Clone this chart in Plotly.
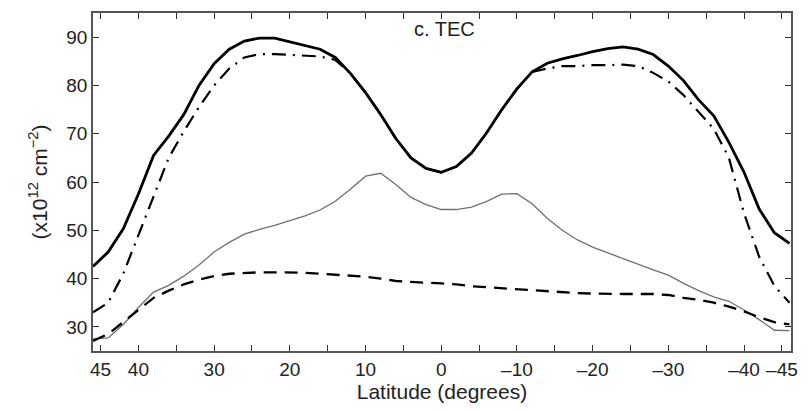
import plotly.graph_objects as go

lat = [46, 44, 42, 40, 38, 36, 34, 32, 30, 28, 26, 24, 22, 20, 18, 16, 14, 12, 10, 8, 6, 4, 2, 0,
       -2, -4, -6, -8, -10, -12, -14, -16, -18, -20, -22, -24, -26, -28, -30, -32, -34, -36, -38,
       -40, -42, -44, -46]

tec_solid = [42.5, 45.5, 50.3, 57.5, 65.5, 69.5, 74.0, 80.0, 84.5, 87.5, 89.2, 89.8, 89.8, 89.0,
             88.3, 87.5, 85.8, 82.5, 78.5, 74.0, 69.0, 65.0, 62.8, 62.0, 63.2, 66.0, 70.2, 75.0,
             79.3, 82.8, 84.6, 85.5, 86.2, 87.0, 87.6, 88.0, 87.5, 86.4, 84.0, 81.0, 77.0, 73.7,
             68.2, 62.0, 54.4, 49.5, 47.3]

tec_dashdot = [33.0, 35.0, 41.0, 49.0, 57.0, 65.0, 70.5, 75.5, 80.0, 83.5, 85.8, 86.5, 86.5, 86.3,
               86.2, 86.0, 85.3, 82.5, 78.5, 74.0, 69.0, 65.0, 62.8, 62.0, 63.2, 66.0, 70.2, 75.0,
               79.3, 82.8, 83.5, 84.0, 84.0, 84.2, 84.2, 84.3, 84.0, 82.6, 80.8, 78.0, 74.5, 71.0,
               65.0, 53.5, 44.5, 38.5, 35.0]

tec_thin = [27.5, 27.7, 30.5, 34.0, 37.2, 38.6, 40.5, 42.8, 45.5, 47.5, 49.2, 50.2, 51.0, 52.0,
            53.0, 54.2, 56.0, 58.5, 61.2, 61.8, 59.5, 56.8, 55.3, 54.3, 54.3, 54.8, 56.0, 57.5,
            57.6, 55.5, 52.5, 50.0, 48.0, 46.5, 45.3, 44.2, 43.0, 41.8, 40.7, 39.0, 37.5, 36.2,
            35.3, 33.5, 31.5, 29.3, 29.2]

tec_dashed = [27.1, 28.5, 31.0, 33.5, 36.0, 37.5, 38.8, 39.8, 40.5, 41.0, 41.2, 41.3, 41.3, 41.3,
              41.2, 41.0, 40.8, 40.7, 40.4, 40.0, 39.5, 39.3, 39.2, 39.0, 38.8, 38.4, 38.2, 38.0,
              37.8, 37.6, 37.3, 37.1, 37.0, 36.9, 36.8, 36.8, 36.8, 36.8, 36.6, 36.0, 35.6, 35.0,
              34.2, 33.2, 32.0, 31.0, 30.5]

x_tickvals = [45, 40, 30, 20, 10, 0, -10, -20, -30, -40, -45]
x_ticktext = ["45", "40", "30", "20", "10", "0", "–10", "–20", "–30", "–40", "–45"]
x_minor_tickvals = [35, 25, 15, 5, -5, -15, -25, -35]
y_tickvals = [30, 40, 50, 60, 70, 80, 90]

fig = go.Figure()
fig.add_trace(go.Scatter(x=lat, y=tec_thin, mode="lines",
                         line=dict(color="#707070", width=1.3)))
fig.add_trace(go.Scatter(x=lat, y=tec_dashed, mode="lines",
                         line=dict(color="black", width=2.3, dash="13px,8px")))
fig.add_trace(go.Scatter(x=lat, y=tec_dashdot, mode="lines",
                         line=dict(color="black", width=2.2, dash="14px,7px,2px,7px")))
fig.add_trace(go.Scatter(x=lat, y=tec_solid, mode="lines",
                         line=dict(color="black", width=2.8)))

fig.add_annotation(x=0, y=1 - (27 - 11) / 340, xref="x", yref="paper", yanchor="middle",
                   xshift=3, text="c. TEC", showarrow=False,
                   font=dict(family="Liberation Sans, Arial", size=20, color="#222"))

axis_common = dict(showgrid=False, zeroline=False, showline=True, mirror="allticks",
                   linecolor="#555", linewidth=1.5, ticks="inside", ticklen=6,
                   tickcolor="#333", tickwidth=1.2,
                   tickfont=dict(family="Liberation Sans, Arial", size=19, color="#222"))

fig.update_xaxes(range=[46, -46.2], tickmode="array", tickvals=x_tickvals, ticktext=x_ticktext,
                 minor=dict(tickmode="array", tickvals=x_minor_tickvals, ticks="inside",
                            ticklen=6, tickcolor="#333", tickwidth=1.2, showgrid=False),
                 title=dict(text="Latitude (degrees)", standoff=5,
                            font=dict(family="Liberation Sans, Arial", size=21, color="#222")),
                 **axis_common)
fig.update_yaxes(range=[25, 95], tickmode="array", tickvals=y_tickvals,
                 title=dict(text="(x10<sup>12</sup> cm<sup>−2</sup>)", standoff=13,
                            font=dict(family="Liberation Sans, Arial", size=21, color="#222")),
                 **axis_common)

fig.update_layout(width=809, height=411, margin=dict(l=93, r=14, t=11, b=60),
                  paper_bgcolor="white", plot_bgcolor="white", showlegend=False)

fig.write_html("out.html")
